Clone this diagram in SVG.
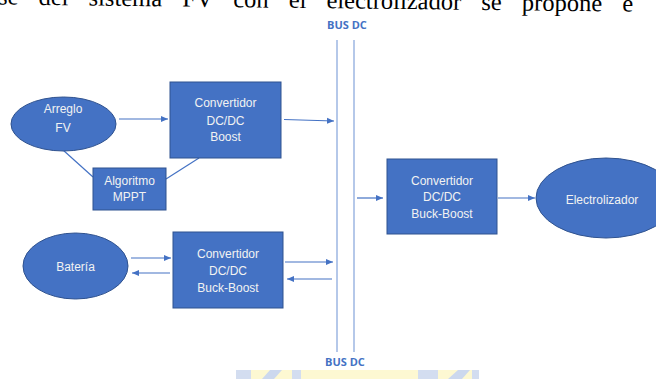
<svg xmlns="http://www.w3.org/2000/svg" width="656" height="379" viewBox="0 0 656 379">
<defs>
<style>
.node{fill:#4472C4;stroke:#2F528F;stroke-width:1}
.lbl{font-family:"Liberation Sans",Arial,sans-serif;font-size:12px;fill:#F2F2F2;text-anchor:middle}
.con{stroke:#4472C4;stroke-width:1.2;fill:none}
.bus{stroke:#9DB6E2;stroke-width:1.5;fill:none}
.bustxt{font-family:"Open Sans","Liberation Sans",sans-serif;font-weight:bold;font-size:11px;fill:#4472C4;text-anchor:middle}
</style>
<marker id="ah" markerWidth="8" markerHeight="8" refX="7" refY="4" orient="auto" markerUnits="userSpaceOnUse">
<path d="M0,1 L7,4 L0,7 Z" fill="#4472C4"/>
</marker>
</defs>
<rect width="656" height="379" fill="#FFFFFF"/>
<text x="-2" y="4.5" transform="rotate(0.65)" font-family="'Liberation Serif','Times New Roman',serif" font-size="24.5" word-spacing="14" fill="#000">se del sistema FV con el electrolizador se propone e</text>
<g id="watermark">
<rect x="236" y="370" width="243" height="9" fill="#FDF8D2"/>
<rect x="236" y="370" width="15" height="9" fill="#D3DDF0"/>
<polygon points="262,379 270,370 282,370 274,379" fill="#CCD8EE"/>
<rect x="292" y="370" width="9" height="9" fill="#D3DDF0"/>
<rect x="418" y="370" width="20" height="9" fill="#D3DDF0"/>
<polygon points="448,379 458,370 470,370 462,379" fill="#CCD8EE"/>
<rect x="472" y="370" width="7" height="9" fill="#D3DDF0"/>
</g>
<g id="bus">
<line class="bus" x1="337" y1="40" x2="337" y2="352"/>
<line class="bus" x1="354" y1="40" x2="354" y2="352"/>
<text class="bustxt" x="347" y="29">BUS DC</text>
<text class="bustxt" x="345" y="366">BUS DC</text>
</g>
<g id="connectors">
<line class="con" x1="119" y1="119" x2="168" y2="119" marker-end="url(#ah)"/>
<line class="con" x1="284" y1="119.5" x2="334" y2="121" marker-end="url(#ah)"/>
<line class="con" x1="63" y1="150" x2="93" y2="177"/>
<line class="con" x1="166" y1="179" x2="199" y2="158"/>
<line class="con" x1="131" y1="258" x2="171" y2="258" marker-end="url(#ah)"/>
<line class="con" x1="170" y1="273" x2="132" y2="273" marker-end="url(#ah)"/>
<line class="con" x1="285" y1="262" x2="333" y2="262" marker-end="url(#ah)"/>
<line class="con" x1="332" y1="279" x2="287" y2="279" marker-end="url(#ah)"/>
<line class="con" x1="357" y1="198" x2="383" y2="198" marker-end="url(#ah)"/>
<line class="con" x1="498" y1="198" x2="535" y2="198" marker-end="url(#ah)"/>
</g>
<g id="arreglo">
<ellipse class="node" cx="63.5" cy="124" rx="52.5" ry="27"/>
<text class="lbl" x="63" y="113">Arreglo</text>
<text class="lbl" x="63" y="132">FV</text>
</g>
<g id="boost">
<rect class="node" x="170" y="82" width="111" height="76"/>
<text class="lbl" x="225.5" y="107">Convertidor</text>
<text class="lbl" x="225.5" y="125">DC/DC</text>
<text class="lbl" x="225.5" y="141">Boost</text>
</g>
<g id="mppt">
<rect class="node" x="93" y="168" width="73" height="42"/>
<text class="lbl" x="129.5" y="185">Algoritmo</text>
<text class="lbl" x="129.5" y="201">MPPT</text>
</g>
<g id="bateria">
<ellipse class="node" cx="75.5" cy="266" rx="52.5" ry="33"/>
<text class="lbl" x="75.5" y="271">Batería</text>
</g>
<g id="buckboost1">
<rect class="node" x="173" y="232" width="110" height="76"/>
<text class="lbl" x="228" y="258">Convertidor</text>
<text class="lbl" x="228" y="275">DC/DC</text>
<text class="lbl" x="228" y="292">Buck-Boost</text>
</g>
<g id="buckboost2">
<rect class="node" x="387" y="159" width="110" height="75"/>
<text class="lbl" x="442" y="185">Convertidor</text>
<text class="lbl" x="442" y="201">DC/DC</text>
<text class="lbl" x="442" y="218">Buck-Boost</text>
</g>
<g id="electrolizador">
<ellipse class="node" cx="606" cy="198" rx="70" ry="40"/>
<text class="lbl" x="602" y="204">Electrolizador</text>
</g>
</svg>
